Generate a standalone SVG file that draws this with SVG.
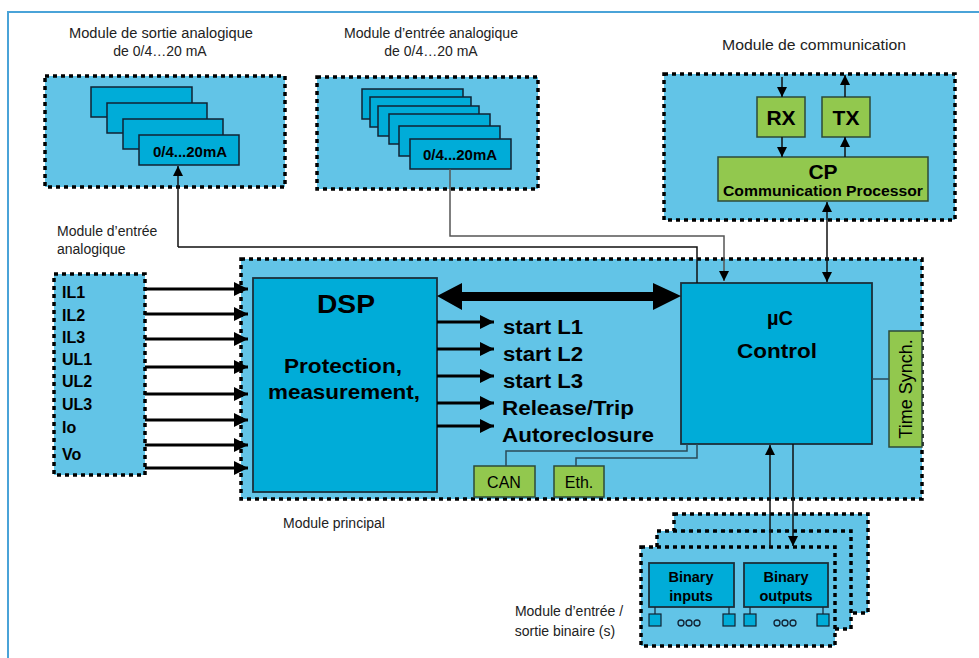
<svg xmlns="http://www.w3.org/2000/svg" width="979" height="658" viewBox="0 0 979 658">
<defs>
<style>
.mod{fill:#62c4e7;stroke:#000;stroke-width:3.5;stroke-dasharray:4 4}
.card{fill:#00acd8;stroke:#123;stroke-width:1.5}
.big{fill:#00acd8;stroke:#1b2f3a;stroke-width:1.8}
.grn{fill:#92c84e;stroke:#2c4a3a;stroke-width:1.5}
.cap{font-family:"Liberation Sans",Arial,sans-serif;font-size:14px;fill:#222}
.b{font-family:"Liberation Sans",Arial,sans-serif;font-weight:bold;fill:#000}
.r{font-family:"Liberation Sans",Arial,sans-serif;fill:#000}
.thin{fill:none;stroke:#555;stroke-width:1.5}
.blk{fill:none;stroke:#111;stroke-width:1.5}
.dk{fill:none;stroke:#2a4a58;stroke-width:1.5}
.ar{fill:none;stroke:#000;stroke-width:3}
.sq{fill:#00acd8;stroke:#123;stroke-width:1.2}
</style>
<marker id="ah" viewBox="0 0 14 14" refX="14" refY="7" markerWidth="14" markerHeight="14" markerUnits="userSpaceOnUse" orient="auto"><path d="M0,0L14,7L0,14z" fill="#000"/></marker>
<marker id="as" viewBox="0 0 10 10" refX="10" refY="5" markerWidth="10" markerHeight="10" markerUnits="userSpaceOnUse" orient="auto"><path d="M0,0L10,5L0,10z" fill="#000"/></marker>
<marker id="as2" viewBox="0 0 10 10" refX="10" refY="5" markerWidth="10" markerHeight="10" markerUnits="userSpaceOnUse" orient="auto-start-reverse"><path d="M0,0L10,5L0,10z" fill="#000"/></marker>
</defs>
<rect width="979" height="658" fill="#fff"/>
<path d="M8,658V12H979" fill="none" stroke="#4aa3d8" stroke-width="2"/>

<text class="cap" x="161" y="38" text-anchor="middle" textLength="184" lengthAdjust="spacingAndGlyphs">Module de sortie analogique</text>
<text class="cap" x="160" y="56" text-anchor="middle">de 0/4…20 mA</text>
<text class="cap" x="431" y="38" text-anchor="middle" textLength="174" lengthAdjust="spacingAndGlyphs">Module d’entrée analogique</text>
<text class="cap" x="431" y="56" text-anchor="middle">de 0/4…20 mA</text>
<text class="cap" x="814" y="50" text-anchor="middle" textLength="184" lengthAdjust="spacingAndGlyphs">Module de communication</text>
<text class="cap" x="57" y="236">Module d’entrée</text>
<text class="cap" x="57" y="254">analogique</text>
<text class="cap" x="283" y="528">Module principal</text>
<text class="cap" x="569" y="616" text-anchor="middle">Module d’entrée /</text>
<text class="cap" x="565" y="636" text-anchor="middle">sortie binaire (s)</text>

<g id="module-sortie">
<rect class="mod" x="45" y="76" width="240" height="111"/>
<rect class="card" x="91" y="87" width="101" height="30"/>
<rect class="card" x="107" y="103" width="100" height="30"/>
<rect class="card" x="123" y="119" width="100" height="30"/>
<rect class="card" x="139" y="135" width="100" height="30"/>
<text class="b" x="190" y="157" font-size="15" text-anchor="middle">0/4...20mA</text>
</g>

<g id="module-entree">
<rect class="mod" x="317" y="77" width="221" height="112"/>
<rect class="card" x="362" y="89" width="101" height="30"/>
<rect class="card" x="370" y="97" width="101" height="30"/>
<rect class="card" x="378" y="106" width="101" height="30"/>
<rect class="card" x="389" y="114" width="101" height="30"/>
<rect class="card" x="399" y="126" width="101" height="30"/>
<rect class="card" x="410" y="139" width="101" height="30"/>
<text class="b" x="460" y="160" font-size="15" text-anchor="middle">0/4...20mA</text>
</g>

<g id="module-communication">
<rect class="mod" x="664" y="74" width="291" height="146"/>
<rect class="grn" x="757" y="97" width="48" height="40"/>
<text class="b" x="781" y="125" font-size="21" text-anchor="middle">RX</text>
<rect class="grn" x="822" y="97" width="48" height="40"/>
<text class="b" x="846" y="125" font-size="21" text-anchor="middle">TX</text>
<rect class="grn" x="718" y="157" width="210" height="44"/>
<text class="b" x="823" y="179" font-size="21" text-anchor="middle">CP</text>
<text class="b" x="823" y="196" font-size="15" text-anchor="middle" textLength="200" lengthAdjust="spacingAndGlyphs">Communication Processor</text>
</g>

<g id="module-analogique">
<rect class="mod" x="54" y="274" width="91" height="201"/>
<g class="b" font-size="16">
<text x="62" y="298">IL1</text>
<text x="62" y="321">IL2</text>
<text x="62" y="343">IL3</text>
<text x="62" y="365">UL1</text>
<text x="62" y="387">UL2</text>
<text x="62" y="410">UL3</text>
<text x="62" y="433">Io</text>
<text x="62" y="460">Vo</text>
</g>
</g>

<g id="module-principal">
<rect class="mod" x="241" y="259" width="681" height="240"/>
</g>

<g id="dsp">
<rect class="big" x="253" y="278" width="184" height="214"/>
<text class="b" x="346" y="313" font-size="25" text-anchor="middle" textLength="58" lengthAdjust="spacingAndGlyphs">DSP</text>
<text class="b" x="343" y="373" font-size="20" text-anchor="middle" textLength="118" lengthAdjust="spacingAndGlyphs">Protection,</text>
<text class="b" x="344" y="399" font-size="20" text-anchor="middle" textLength="152" lengthAdjust="spacingAndGlyphs">measurement,</text>
</g>

<g id="dsp-outputs">
<g class="b" font-size="20">
<text x="503" y="334" textLength="80" lengthAdjust="spacingAndGlyphs">start L1</text>
<text x="503" y="361" textLength="80" lengthAdjust="spacingAndGlyphs">start L2</text>
<text x="503" y="388" textLength="80" lengthAdjust="spacingAndGlyphs">start L3</text>
<text x="502" y="415" textLength="132" lengthAdjust="spacingAndGlyphs">Release/Trip</text>
<text x="502" y="442" textLength="152" lengthAdjust="spacingAndGlyphs">Autoreclosure</text>
</g>
</g>

<g id="uc">
<rect class="big" x="681" y="283" width="191" height="161"/>
<text class="b" x="780" y="325" font-size="20" text-anchor="middle">µC</text>
<text class="b" x="777" y="358" font-size="21" text-anchor="middle" textLength="80" lengthAdjust="spacingAndGlyphs">Control</text>
</g>

<g id="time-synch">
<rect class="grn" x="889" y="331" width="33" height="116"/>
<text class="r" font-size="18" text-anchor="middle" transform="translate(912,389) rotate(-90)">Time Synch.</text>
</g>

<g id="can">
<rect class="grn" x="474" y="466" width="61" height="31"/>
<text class="r" x="504" y="488" font-size="16" text-anchor="middle">CAN</text>
</g>
<g id="eth">
<rect class="grn" x="554" y="466" width="50" height="31"/>
<text class="r" x="579" y="488" font-size="16" text-anchor="middle">Eth.</text>
</g>

<g id="module-binaire">
<rect class="mod" x="674" y="514" width="194" height="99"/>
<rect class="mod" x="657" y="531" width="194" height="98"/>
<rect class="mod" x="641" y="547" width="194" height="99"/>
<rect class="big" x="649" y="563" width="85" height="44"/>
<text class="b" x="691" y="582" font-size="14.5" text-anchor="middle">Binary</text>
<text class="b" x="691" y="601" font-size="14.5" text-anchor="middle">inputs</text>
<rect class="big" x="744" y="563" width="84" height="44"/>
<text class="b" x="786" y="582" font-size="14.5" text-anchor="middle">Binary</text>
<text class="b" x="786" y="601" font-size="14.5" text-anchor="middle">outputs</text>
<path d="M655,607V614M729,607V614M750,607V614M823,607V614" stroke="#123" stroke-width="1.2"/>
<rect class="sq" x="649" y="614" width="12" height="12"/>
<rect class="sq" x="723" y="614" width="12" height="12"/>
<rect class="sq" x="744" y="614" width="12" height="12"/>
<rect class="sq" x="817" y="614" width="12" height="12"/>
<g fill="none" stroke="#123" stroke-width="1.3">
<circle cx="681" cy="623" r="3"/><circle cx="689" cy="623" r="3"/><circle cx="697" cy="623" r="3"/>
<circle cx="777" cy="623" r="3"/><circle cx="785" cy="623" r="3"/><circle cx="793" cy="623" r="3"/>
</g>
</g>

<g id="connectors">
<path class="blk" d="M178,247V166" marker-end="url(#as)"/>
<path class="blk" d="M178,247H697V283"/>
<path class="thin" d="M450,169V236H724V281" marker-end="url(#as)"/>
<path class="dk" d="M687,444V451H506V466"/>
<path class="dk" d="M697,444V458H576V466"/>
<path class="dk" d="M872,379H889"/>
<path class="blk" d="M770,547V445" marker-end="url(#as)"/>
<path class="blk" d="M793,444V546" marker-end="url(#as)"/>
<path class="blk" d="M827,202V282" marker-start="url(#as2)" marker-end="url(#as2)"/>
<path class="blk" d="M782,77V97" marker-end="url(#as)"/>
<path class="blk" d="M782,137V157" marker-end="url(#as)"/>
<path class="blk" d="M845,157V137" marker-end="url(#as)"/>
<path class="blk" d="M845,97V75" marker-end="url(#as)"/>
<path class="ar" d="M145,289H248" marker-end="url(#ah)"/>
<path class="ar" d="M145,314H248" marker-end="url(#ah)"/>
<path class="ar" d="M145,339H248" marker-end="url(#ah)"/>
<path class="ar" d="M145,367H248" marker-end="url(#ah)"/>
<path class="ar" d="M145,394H248" marker-end="url(#ah)"/>
<path class="ar" d="M145,420H248" marker-end="url(#ah)"/>
<path class="ar" d="M145,445H248" marker-end="url(#ah)"/>
<path class="ar" d="M145,468H248" marker-end="url(#ah)"/>
<path class="ar" d="M437,322H494" marker-end="url(#ah)"/>
<path class="ar" d="M437,349H494" marker-end="url(#ah)"/>
<path class="ar" d="M437,376H494" marker-end="url(#ah)"/>
<path class="ar" d="M437,403H494" marker-end="url(#ah)"/>
<path class="ar" d="M437,426H494" marker-end="url(#ah)"/>
<path d="M437,296L462,283V292H653V283L681,296L653,310V301H462V310z" fill="#000"/>
</g>
</svg>
